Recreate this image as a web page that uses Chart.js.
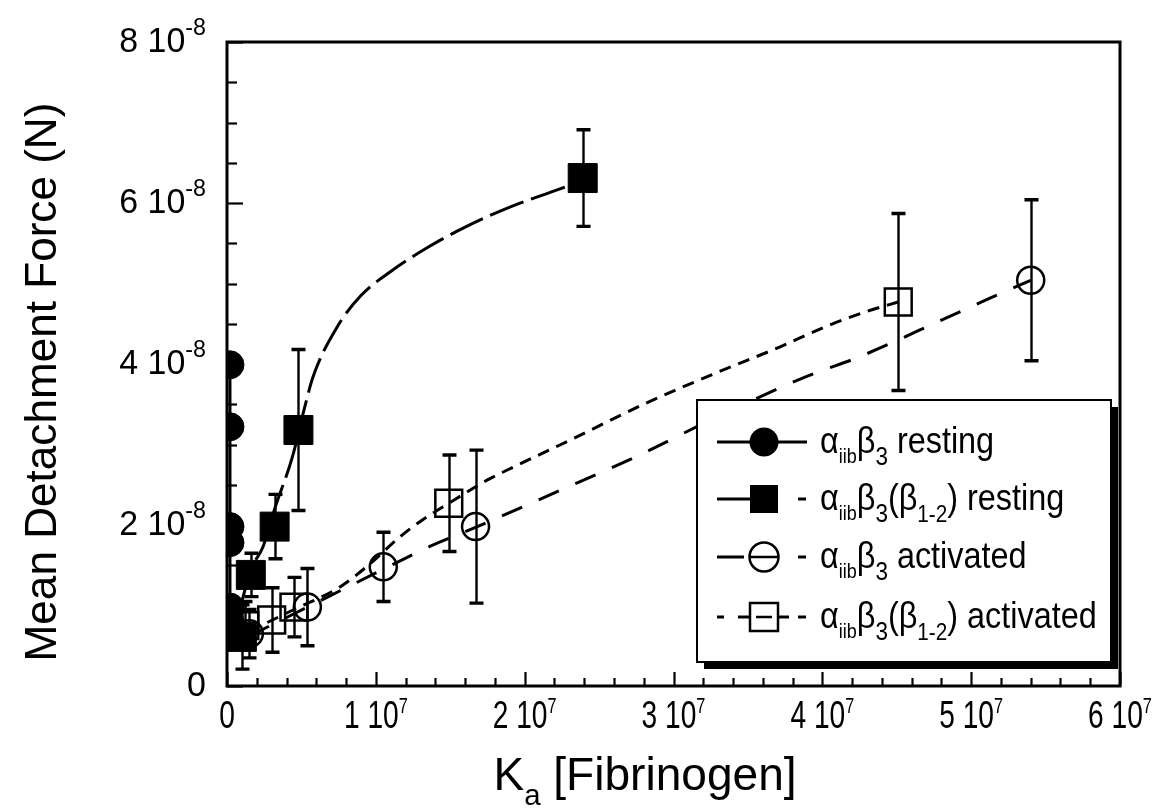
<!DOCTYPE html>
<html><head><meta charset="utf-8">
<script src="https://cdn.jsdelivr.net/npm/chart.js@4/dist/chart.umd.min.js"></script>
<style>html,body{margin:0;padding:0;background:#fff}#wrap{width:1164px;height:810px;position:relative}</style>
</head><body><div id="wrap"><canvas id="c" width="1164" height="810"></canvas></div>
<script>
// ---- data ----
const xTickValues = [0, 1e7, 2e7, 3e7, 4e7, 5e7, 6e7];
const xTickLabels = [['0',''],['1 10','7'],['2 10','7'],['3 10','7'],['4 10','7'],['5 10','7'],['6 10','7']];
const yTickValues = [0, 2e-8, 4e-8, 6e-8, 8e-8];
const yTickLabels = [['0',''],['2 10','-8'],['4 10','-8'],['6 10','-8'],['8 10','-8']];

const restingX = [2e5, 2e5, 2e5, 2e5, 2e5, 2e5];
const restingY = [0.80e-8, 0.98e-8, 1.78e-8, 1.98e-8, 3.22e-8, 3.99e-8];

const restingB12X = [0.10e7, 0.16e7, 0.32e7, 0.48e7, 2.39e7];
const restingB12Y = [0.61e-8, 1.38e-8, 1.98e-8, 3.18e-8, 6.31e-8];
const restingB12Err = [0.40e-8, 0.27e-8, 0.40e-8, 1.00e-8, 0.60e-8];

const activatedX = [0.15e7, 0.54e7, 1.05e7, 1.67e7, 5.40e7];
const activatedY = [0.65e-8, 0.98e-8, 1.48e-8, 1.98e-8, 5.04e-8];
const activatedErr = [0.30e-8, 0.48e-8, 0.43e-8, 0.95e-8, 1.00e-8];

const activatedB12X = [0.12e7, 0.30e7, 0.45e7, 1.49e7, 4.51e7];
const activatedB12Y = [0.75e-8, 0.82e-8, 0.98e-8, 2.27e-8, 4.77e-8];
const activatedB12Err = [0.30e-8, 0.40e-8, 0.37e-8, 0.60e-8, 1.10e-8];

// fitted curves
const restingFitX = [0.10e7, 0.16e7, 0.24e7, 0.32e7, 0.44e7, 0.52e7, 0.58e7, 0.74e7, 0.90e7, 1.10e7, 1.35e7, 1.60e7, 1.90e7, 2.20e7, 2.39e7];
const restingFitY = [1.05e-8, 1.45e-8, 1.72e-8, 2.20e-8, 2.85e-8, 3.45e-8, 3.85e-8, 4.46e-8, 4.85e-8, 5.15e-8, 5.45e-8, 5.70e-8, 5.95e-8, 6.15e-8, 6.28e-8];

const activatedFitX = [0.15e7, 0.54e7, 1.05e7, 1.37e7, 1.67e7, 2.20e7, 2.75e7, 3.30e7, 3.90e7, 4.25e7, 4.83e7, 5.13e7, 5.40e7];
const activatedFitY = [0.62e-8, 0.98e-8, 1.45e-8, 1.74e-8, 1.97e-8, 2.40e-8, 2.85e-8, 3.35e-8, 3.85e-8, 4.09e-8, 4.57e-8, 4.82e-8, 5.04e-8];

const activatedB12FitX = [0.15e7, 0.45e7, 0.75e7, 0.95e7, 1.16e7, 1.31e7, 1.49e7, 1.75e7, 1.88e7, 2.30e7, 2.80e7, 3.30e7, 3.70e7, 4.03e7, 4.31e7, 4.51e7];
const activatedB12FitY = [0.68e-8, 0.95e-8, 1.22e-8, 1.50e-8, 1.85e-8, 2.06e-8, 2.27e-8, 2.56e-8, 2.68e-8, 3.05e-8, 3.50e-8, 3.90e-8, 4.20e-8, 4.47e-8, 4.66e-8, 4.77e-8];

const seriesNames = ['resting', 'resting', 'activated', 'activated'];

// ---- helpers ----
const FONT = '"Liberation Sans", Arial, Helvetica, sans-serif';
function pts(xs, ys){ return xs.map((x,i)=>({x:x, y:ys[i]})); }
function drawRich(ctx, segs, x, y, align){
  let total = 0;
  segs.forEach(s=>{ ctx.font = s.size+'px '+FONT; s.w = ctx.measureText(s.t).width*(s.sx||1); total += s.w; });
  let cx = align==='center' ? x-total/2 : align==='right' ? x-total : x;
  segs.forEach(s=>{
    ctx.save(); ctx.font = s.size+'px '+FONT; ctx.textBaseline='alphabetic'; ctx.textAlign='left';
    ctx.translate(cx, y+(s.dy||0)); ctx.scale(s.sx||1, 1); ctx.fillStyle='#000'; ctx.fillText(s.t,0,0); ctx.restore();
    cx += s.w;
  });
  return total;
}

const decor = {
  id:'decor',
  afterDatasetsDraw(chart){
    const ctx = chart.ctx, xs = chart.scales.x, ys = chart.scales.y;
    ctx.save(); ctx.strokeStyle='#000';
    const groups = [[restingB12X,restingB12Y,restingB12Err],[activatedX,activatedY,activatedErr],[activatedB12X,activatedB12Y,activatedB12Err]];
    groups.forEach(([gx,gy,ge])=>{
      gx.forEach((xv,i)=>{
        const px = Math.round(xs.getPixelForValue(xv))+0.5;
        const top = ys.getPixelForValue(gy[i]+ge[i]), bot = ys.getPixelForValue(gy[i]-ge[i]);
        ctx.beginPath(); ctx.moveTo(px,top); ctx.lineTo(px,bot); ctx.lineWidth=2.4; ctx.stroke();
        ctx.beginPath(); ctx.lineWidth=3.4; ctx.moveTo(px-7,top); ctx.lineTo(px+7,top); ctx.moveTo(px-7,bot); ctx.lineTo(px+7,bot); ctx.stroke();
      });
    });
    ctx.restore();
  },
  afterDraw(chart){
    const ctx = chart.ctx, a = chart.chartArea, xs = chart.scales.x, ys = chart.scales.y;
    ctx.save();
    // frame
    ctx.strokeStyle='#000'; ctx.lineWidth=3;
    ctx.strokeRect(a.left, a.top, a.right-a.left, a.bottom-a.top);
    // x ticks (inward)
    ctx.lineWidth=2.2;
    for(let v=0; v<=6e7+1; v+=2e6){
      const px = Math.round(xs.getPixelForValue(v))+0.5;
      const major = Math.abs(v/1e7 - Math.round(v/1e7))<1e-6;
      ctx.beginPath(); ctx.moveTo(px, a.bottom); ctx.lineTo(px, a.bottom-(major?14:8)); ctx.stroke();
    }
    for(let k=0; k<=16; k++){
      const v = k*0.5e-8;
      const py = Math.round(ys.getPixelForValue(v))+0.5;
      const major = k%4===0;
      ctx.beginPath(); ctx.moveTo(a.left, py); ctx.lineTo(a.left+(major?16:10), py); ctx.stroke();
    }
    // x tick labels
    xTickValues.forEach((v,i)=>{
      const px = xs.getPixelForValue(v);
      const [m,e] = xTickLabels[i];
      const segs=[{t:m,size:38,sx:0.74}];
      if(e) segs.push({t:e,size:22,dy:-15,sx:0.74});
      drawRich(ctx, segs, px, a.bottom+42, 'center');
    });
    // y tick labels
    yTickValues.forEach((v,i)=>{
      const py = ys.getPixelForValue(v);
      const [m,e] = yTickLabels[i];
      const segs=[{t:m,size:35,sx:0.97}];
      if(e) segs.push({t:e,size:24,dy:-17,sx:0.97});
      drawRich(ctx, segs, 206, py+10, 'right');
    });
    // axis titles
    drawRich(ctx, [{t:'K',size:47,sx:0.98},{t:'a',size:30,dy:15,sx:0.98},{t:' [Fibrinogen]',size:47,sx:0.98}], 645, 790, 'center');
    ctx.save(); ctx.translate(56, 382); ctx.rotate(-Math.PI/2);
    drawRich(ctx, [{t:'Mean Detachment Force (N)',size:45,sx:0.98}], 0, 0, 'center');
    ctx.restore();

    // legend box
    const L=697, T=400, R=1111, B=662, sh=7;
    ctx.fillStyle='#000'; ctx.fillRect(L+sh, T+sh, R-L, B-T);
    ctx.fillStyle='#fff'; ctx.fillRect(L, T, R-L, B-T);
    ctx.lineWidth=2; ctx.strokeStyle='#000'; ctx.strokeRect(L, T, R-L, B-T);
    const rows=[442, 499, 557, 617];
    const sym=[
      {style:'circle', fill:true},
      {style:'rect', fill:true},
      {style:'circle', fill:false},
      {style:'rect', fill:false}
    ];
    const lineSegs=[
      [[717,807]],
      [[717,752],[798,806]],
      [[717,744],[798,806]],
      [[717,724],[738,750],[778,789],[798,806]]
    ];
    rows.forEach((ry,i)=>{
      ctx.strokeStyle='#000'; ctx.lineWidth=3;
      lineSegs[i].forEach(([x1,x2])=>{ctx.beginPath(); ctx.moveTo(x1,ry); ctx.lineTo(x2,ry); ctx.stroke();});
      ctx.lineWidth=2.5;
      if(sym[i].style==='circle'){
        ctx.beginPath(); ctx.arc(764, ry, 14.5, 0, Math.PI*2);
        if(sym[i].fill){ctx.fillStyle='#000'; ctx.fill();} else {ctx.fillStyle='#fff'; ctx.fill(); ctx.stroke(); ctx.beginPath(); ctx.moveTo(750,ry); ctx.lineTo(778,ry); ctx.stroke();}
      } else {
        if(sym[i].fill){ctx.fillStyle='#000'; ctx.fillRect(750, ry-14, 28, 28);} else {ctx.fillStyle='#fff'; ctx.fillRect(750, ry-14, 28, 28); ctx.strokeRect(750, ry-14, 28, 28); ctx.beginPath(); ctx.moveTo(756,ry); ctx.lineTo(772,ry); ctx.stroke();}
      }
      const base = ry+11;
      const segs=[{t:'\u03b1',size:36},{t:'iib',size:20,dy:10},{t:'\u03b2',size:36},{t:'3',size:25,dy:12}];
      if(i===1||i===3){ segs.push({t:'(\u03b2',size:36},{t:'1-2',size:23,dy:12},{t:')',size:36}); }
      segs.push({t:' '+seriesNames[i],size:36});
      segs.forEach(s=>s.sx=0.9);
      drawRich(ctx, segs, 820, base, 'left');
    });
    ctx.restore();
  }
};

new Chart(document.getElementById('c'), {
  type:'scatter',
  data:{ datasets:[
    {label:'restingFit', data:pts(restingFitX,restingFitY), showLine:true, pointRadius:0, borderColor:'#000', borderWidth:3, borderDash:[36,8], cubicInterpolationMode:'monotone', fill:false},
    {label:'activatedFit', data:pts(activatedFitX,activatedFitY), showLine:true, pointRadius:0, borderColor:'#000', borderWidth:3, borderDash:[22,18], cubicInterpolationMode:'monotone', fill:false},
    {label:'activatedB12Fit', data:pts(activatedB12FitX,activatedB12FitY), showLine:true, pointRadius:0, borderColor:'#000', borderWidth:3, borderDash:[12,8], cubicInterpolationMode:'monotone', fill:false},
    {label:'\u03b1iib\u03b23 resting', data:pts(restingX,restingY), showLine:true, borderColor:'#000', borderWidth:3, pointStyle:'circle', pointRadius:14, backgroundColor:'#000', pointBorderWidth:1},
    {label:'\u03b1iib\u03b23(\u03b21-2) resting', data:pts(restingB12X,restingB12Y), showLine:false, pointStyle:'rect', pointRadius:20.5, backgroundColor:'#000', borderColor:'#000', pointBorderWidth:1},
    {label:'\u03b1iib\u03b23 activated', data:pts(activatedX,activatedY), showLine:false, pointStyle:'circle', pointRadius:13.5, backgroundColor:'rgba(0,0,0,0)', borderColor:'#000', pointBorderWidth:2.5},
    {label:'\u03b1iib\u03b23(\u03b21-2) activated', data:pts(activatedB12X,activatedB12Y), showLine:false, pointStyle:'rect', pointRadius:19, backgroundColor:'rgba(0,0,0,0)', borderColor:'#000', pointBorderWidth:2.5}
  ]},
  options:{
    responsive:false, animation:false, devicePixelRatio:1,
    layout:{padding:{left:227, right:44, top:42, bottom:124}},
    scales:{
      x:{type:'linear', min:0, max:6e7, display:false},
      y:{type:'linear', min:0, max:8e-8, display:false}
    },
    plugins:{legend:{display:false}, tooltip:{enabled:false}},
    elements:{line:{borderCapStyle:'butt'}}
  },
  plugins:[decor]
});
</script>
</body></html>
